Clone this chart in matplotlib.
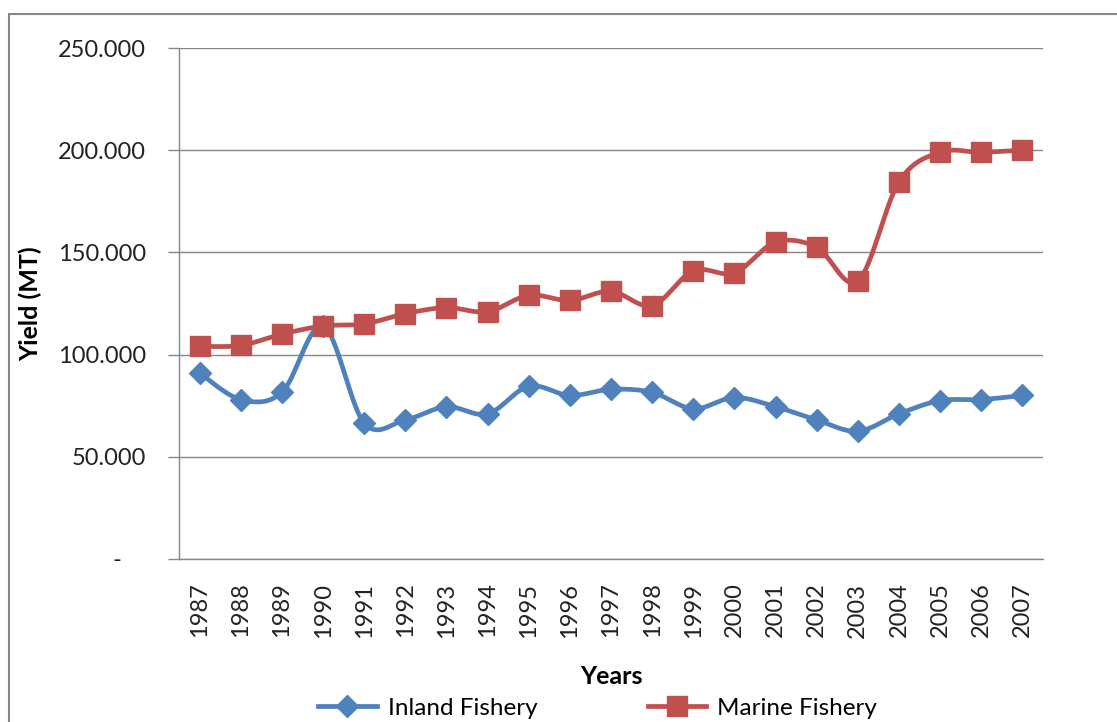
import numpy as np
import matplotlib
matplotlib.use("Agg")
import matplotlib.pyplot as plt
from matplotlib.patches import Rectangle
from matplotlib.ticker import FuncFormatter

plt.rcParams['font.family'] = ['Lato', 'DejaVu Sans']

years = ["1987", "1988", "1989", "1990", "1991", "1992", "1993", "1994", "1995", "1996", "1997",
         "1998", "1999", "2000", "2001", "2002", "2003", "2004", "2005", "2006", "2007"]
inland = [91, 78, 81.5, 114, 66.5, 68, 74.5, 71, 84.5, 80, 83,
          81.5, 73.5, 79, 74.5, 68, 62.5, 71, 77.5, 78, 80]
marine = [104, 104.5, 110, 114, 115, 120, 123, 121, 129, 126.5, 131,
          124, 141, 140, 155, 152.5, 136, 184.5, 199, 199, 200]


def smooth(x, y, n=30):
    # bezier segments like the excel "smoothed line" option
    x = np.asarray(x, float)
    y = np.asarray(y, float)
    px = np.concatenate([[x[0]], x, [x[-1]]])
    py = np.concatenate([[y[0]], y, [y[-1]]])
    t = np.linspace(0, 1, n)
    xs, ys = [], []
    for i in range(1, len(px) - 2):
        p0 = np.array([px[i], py[i]])
        p3 = np.array([px[i + 1], py[i + 1]])
        p1 = p0 + (np.array([px[i + 1], py[i + 1]]) - np.array([px[i - 1], py[i - 1]])) / 6
        p2 = p3 - (np.array([px[i + 2], py[i + 2]]) - np.array([px[i], py[i]])) / 6
        b = ((1 - t) ** 3)[:, None] * p0 + (3 * (1 - t) ** 2 * t)[:, None] * p1 \
            + (3 * (1 - t) * t ** 2)[:, None] * p2 + (t ** 3)[:, None] * p3
        xs.extend(b[:, 0])
        ys.extend(b[:, 1])
    return xs, ys


blue = "#4F81BD"
red = "#C0504D"

fig = plt.figure(figsize=(11.17, 7.22), dpi=100)
fig.patches.append(Rectangle((0.008, -0.05), 1.2, 0.05 + 0.981, transform=fig.transFigure,
                             fill=False, edgecolor="#888888", linewidth=1.5))
ax = fig.add_axes([0.1603, 0.2258, 0.7734, 0.7077])

x = np.arange(len(years))
sx, sy = smooth(x, inland)
ax.plot(sx, sy, color=blue, lw=3.4, solid_capstyle="round", zorder=3)
ax.plot(x, inland, ls="none", marker="D", ms=11, color=blue, zorder=4)
sx, sy = smooth(x, marine)
ax.plot(sx, sy, color=red, lw=3.4, solid_capstyle="round", zorder=3)
ax.plot(x, marine, ls="none", marker="s", ms=14, color=red, zorder=4)

# legend handles
ax.plot([], [], color=blue, lw=3.4, marker="D", ms=11, label="Inland Fishery")
ax.plot([], [], color=red, lw=3.4, marker="s", ms=14, label="Marine Fishery")

ax.set_xlim(-0.5, len(years) - 0.5)
ax.set_ylim(0, 250)
ax.set_yticks([0, 50, 100, 150, 200, 250])
ax.yaxis.set_major_formatter(FuncFormatter(lambda v, p: "-    " if v == 0 else "%.3f" % v))
ax.set_xticks(x)
ax.set_xticklabels(years, rotation=90)
ax.tick_params(axis="x", length=0, pad=17, labelsize=17, colors="#222222")
ax.tick_params(axis="y", length=8, width=1, color="#868686", pad=16, labelsize=17, labelcolor="#222222")
ax.grid(axis="y", color="#868686", lw=1)
ax.set_axisbelow(True)
for s in ["top", "right"]:
    ax.spines[s].set_visible(False)
for s in ["left", "bottom"]:
    ax.spines[s].set_color("#868686")
    ax.spines[s].set_linewidth(1)

ax.set_ylabel("Yield (MT)", fontsize=18, fontweight="bold", labelpad=11)
ax.set_xlabel("Years", fontsize=18, fontweight="bold", labelpad=20)

fig.legend(handles=ax.get_lines()[-2:], loc="lower center", bbox_to_anchor=(0.535, -0.026),
           ncol=2, frameon=False, fontsize=17.5, handlelength=2.4, columnspacing=4.55,
           handletextpad=0.45)

fig.savefig("out.png", dpi=100)
